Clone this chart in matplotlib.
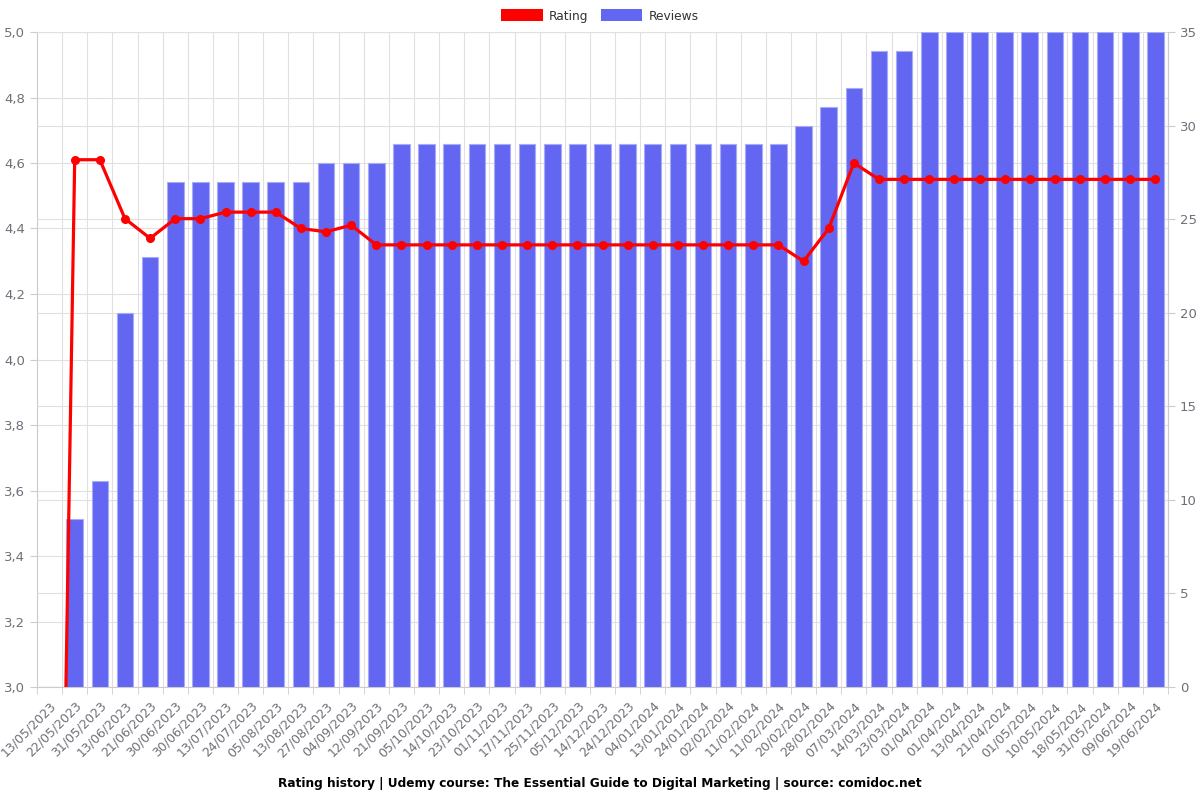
import numpy as np
import matplotlib
matplotlib.use("Agg")
import matplotlib.pyplot as plt
from matplotlib.patches import Patch
from matplotlib.ticker import FuncFormatter, MultipleLocator

# data
dates = [
    "13/05/2023", "22/05/2023", "31/05/2023", "13/06/2023", "21/06/2023",
    "30/06/2023", "30/06/2023", "13/07/2023", "24/07/2023", "05/08/2023",
    "13/08/2023", "27/08/2023", "04/09/2023", "12/09/2023", "21/09/2023",
    "05/10/2023", "14/10/2023", "23/10/2023", "01/11/2023", "17/11/2023",
    "25/11/2023", "05/12/2023", "14/12/2023", "24/12/2023", "04/01/2024",
    "13/01/2024", "24/01/2024", "02/02/2024", "11/02/2024", "11/02/2024",
    "20/02/2024", "28/02/2024", "07/03/2024", "14/03/2024", "23/03/2024",
    "01/04/2024", "01/04/2024", "13/04/2024", "21/04/2024", "01/05/2024",
    "10/05/2024", "18/05/2024", "31/05/2024", "09/06/2024", "19/06/2024",
]
rating = [
    0, 4.61, 4.61, 4.43, 4.37, 4.43, 4.43, 4.45, 4.45, 4.45,
    4.40, 4.39, 4.41, 4.35, 4.35, 4.35, 4.35, 4.35, 4.35, 4.35,
    4.35, 4.35, 4.35, 4.35, 4.35, 4.35, 4.35, 4.35, 4.35, 4.35,
    4.30, 4.40, 4.60, 4.55, 4.55, 4.55, 4.55, 4.55, 4.55, 4.55,
    4.55, 4.55, 4.55, 4.55, 4.55,
]
reviews = [
    0, 9, 11, 20, 23, 27, 27, 27, 27, 27,
    27, 28, 28, 28, 29, 29, 29, 29, 29, 29,
    29, 29, 29, 29, 29, 29, 29, 29, 29, 29,
    30, 31, 32, 34, 34, 35, 35, 35, 35, 35,
    35, 35, 35, 35, 35,
]

TEXT = "#6e7079"
GRID = "#e0e0e0"
AXIS = "#cccccc"
BAR = "#6366f1"

fig = plt.figure(figsize=(12, 8), dpi=100)
rect = [37 / 1200, 1 - 687 / 800, (1168 - 37) / 1200, (687 - 32) / 800]

x = np.arange(len(dates))

# bottom axes: rating scale + category grid
ax = fig.add_axes(rect)
ax.set_xlim(-0.5, len(dates) - 0.5)
ax.set_ylim(3.0, 5.0)
ax.yaxis.set_major_locator(MultipleLocator(0.2))
ax.yaxis.set_major_formatter(FuncFormatter(lambda v, p: f"{v:.1f}".replace(".", ",")))
ax.set_xticks(x)
ax.set_xticklabels(dates, rotation=45, ha="right", va="top",
                   rotation_mode="anchor", fontsize=9, color=TEXT)
ax.set_xticks(np.arange(-0.5, len(dates), 1), minor=True)
ax.tick_params(axis="x", which="major", length=0, pad=9)
ax.tick_params(axis="x", which="minor", length=5, color=AXIS)
ax.tick_params(axis="y", length=5, color=AXIS, labelcolor=TEXT, labelsize=9.5)
ax.grid(True, axis="x", which="minor", color=GRID, linewidth=0.8)
ax.grid(True, axis="y", which="major", color=GRID, linewidth=0.8)
ax.set_axisbelow(True)
for s in ax.spines.values():
    s.set_color(AXIS)
ax.spines["top"].set_visible(False)

# reviews bars on right scale
ax_bar = ax.twinx()
ax_bar.set_ylim(0, 35)
ax_bar.yaxis.set_major_locator(MultipleLocator(5))
ax_bar.bar(x, reviews, width=0.66, color=BAR, edgecolor="#a9abf6", linewidth=0.8, zorder=2)
ax_bar.grid(True, axis="y", color=GRID, linewidth=0.8, zorder=0)
ax_bar.set_axisbelow(True)
ax_bar.tick_params(axis="y", length=5, color=AXIS, labelcolor=TEXT, labelsize=9.5)
for s in ax_bar.spines.values():
    s.set_visible(False)
ax_bar.spines["right"].set_visible(True)
ax_bar.spines["right"].set_color(AXIS)

# rating line on top
ax_line = ax.twinx()
ax_line.set_ylim(3.0, 5.0)
ax_line.plot(x, rating, color="red", linewidth=2.3, marker="o", markersize=5.5, zorder=3)
ax_line.axis("off")

fig.legend(handles=[Patch(facecolor="red", label="Rating"),
                    Patch(facecolor=BAR, label="Reviews")],
           loc="center", bbox_to_anchor=(0.5, 1 - 16 / 800), ncol=2, frameon=False,
           fontsize=8.8, handlelength=3.4, handleheight=1.1, columnspacing=1.0,
           handletextpad=0.5, labelcolor="#333333")

fig.text(0.5, 1 - 783 / 800,
         "Rating history | Udemy course: The Essential Guide to Digital Marketing | source: comidoc.net",
         ha="center", va="center", fontsize=8.7, fontweight="bold", color="black")

fig.savefig("out.png", dpi=100)
